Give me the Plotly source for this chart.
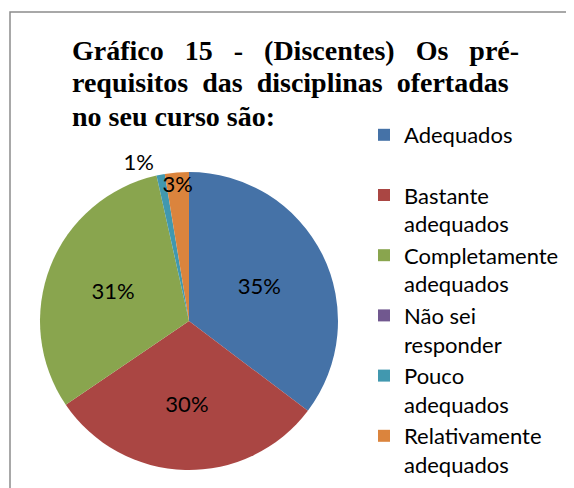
import plotly.graph_objects as go

# respostas (em %)
categorias = ["Adequados", "Bastante adequados", "Completamente adequados",
              "Não sei responder", "Pouco adequados", "Relativamente adequados"]
legenda = ["Adequados<br>\u00a0", "Bastante<br>adequados", "Completamente<br>adequados",
           "Não sei<br>responder", "Pouco<br>adequados", "Relativamente<br>adequados"]
valores = [35.3, 30.2, 31.0, 0, 0.9, 2.6]
cores = ["#4572A7", "#AA4643", "#89A54E", "#71588F", "#4198AF", "#DB843D"]

titulo = ["Gráfico 15 - (Discentes) Os pré-",
          "requisitos das disciplinas ofertadas",
          "no seu curso são:"]
espacos = [3, 2, 1]

W, H = 574, 488

fig = go.Figure()
fig.add_trace(go.Pie(
    labels=legenda,
    values=valores,
    sort=False,
    direction="clockwise",
    rotation=0,
    marker=dict(colors=cores, line=dict(width=0)),
    texttemplate=["" if v == 0 else "%{percent:.0%}" for v in valores],
    textposition=["outside" if v < 2 else "inside" for v in valores],
    insidetextorientation="horizontal",
    textfont=dict(family="Lato", size=22, color="black"),
    domain=dict(x=[32 / W, 330 / W], y=[1 - 462 / H, 1 - 164 / H]),
    hoverinfo="label+percent",
))

annotations = []
for i, (linha, n) in enumerate(zip(titulo, espacos)):
    annotations.append(dict(
        text="<b>" + ("\u00a0" * n).join(linha.split(" ")) + "</b>",
        x=62 / W, y=1 - (42 + i * 33) / H, xref="paper", yref="paper",
        xanchor="left", yanchor="middle", showarrow=False,
        font=dict(family="Liberation Serif", size=28, color="black"),
    ))

fig.update_layout(
    width=W, height=H,
    margin=dict(l=0, r=0, t=0, b=0),
    paper_bgcolor="white",
    plot_bgcolor="white",
    showlegend=True,
    legend=dict(
        x=356 / W, y=1 - 106 / H, xanchor="left", yanchor="top",
        valign="top",
        font=dict(family="Lato", size=22, color="black"),
        bgcolor="rgba(0,0,0,0)",
    ),
    uniformtext=dict(minsize=22, mode="show"),
    annotations=annotations,
    shapes=[dict(type="rect", xref="paper", yref="paper",
                 x0=2 / W, x1=1.2, y0=-0.2, y1=1 - 4 / H,
                 line=dict(color="#8c8c8c", width=1.5), fillcolor="rgba(0,0,0,0)")],
)

fig.write_html("out.html")
